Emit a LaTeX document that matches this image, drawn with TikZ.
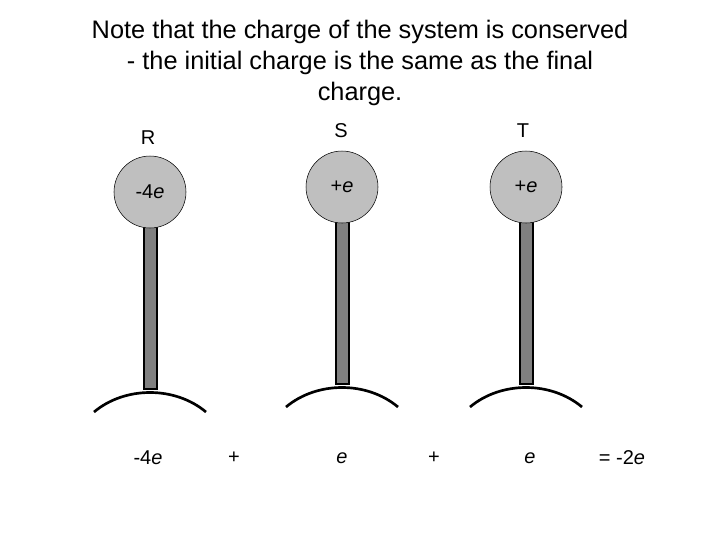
\documentclass[tikz,border=0pt]{standalone}
\usepackage{fontspec}
\setmainfont{Liberation Sans}
\begin{document}
\begin{tikzpicture}[x=0.75pt,y=-0.75pt,
  ball/.style={circle,draw=black,fill=black!25,minimum size=54pt,inner sep=0pt,font=\fontsize{15}{18}\selectfont},
  rod/.style={draw=black,line width=1.5pt,fill=black!50},
  base/.style={line width=2pt},
  lbl/.style={font=\fontsize{15}{18}\selectfont}]
\useasboundingbox (0,0) rectangle (720,540);
\node[align=center,font=\fontsize{19}{23}\selectfont] (title) at (360,63) {Note that the charge of the system is conserved\\- the initial charge is the same as the final\\charge.};
\foreach \n/\cx/\cy/\bt/\txt in {r/150/192/389/-4\emph{e}, s/342/187/384/+\emph{e}, t/526/187/384/+\emph{e}}{
  \draw[rod] (\cx-6.5,\cy+30) rectangle (\cx+6.5,\bt);
  \node[ball] (\n) at (\cx,\cy) {\txt};
  \coordinate (\n L) at (\cx-56,\bt+23);
  \coordinate (\n R) at (\cx+56,\bt+23);
  \draw[base] (\n L) .. controls (\cx-25,\bt-3) and (\cx+25,\bt-3) .. (\n R);
}
\node[lbl] (Rl) at (148,138) {R};
\node[lbl] (Sl) at (341,131) {S};
\node[lbl] (Tl) at (523,131) {T};
\node[lbl] (q1) at (148,458) {-4\emph{e}};
\node[lbl] (p1) at (234,458) {+};
\node[lbl] (q2) at (342,458) {\emph{e}};
\node[lbl] (p2) at (434,458) {+};
\node[lbl] (q3) at (530,458) {\emph{e}};
\node[lbl] (sum) at (622,458) {= -2\emph{e}};
\end{tikzpicture}
\end{document}
